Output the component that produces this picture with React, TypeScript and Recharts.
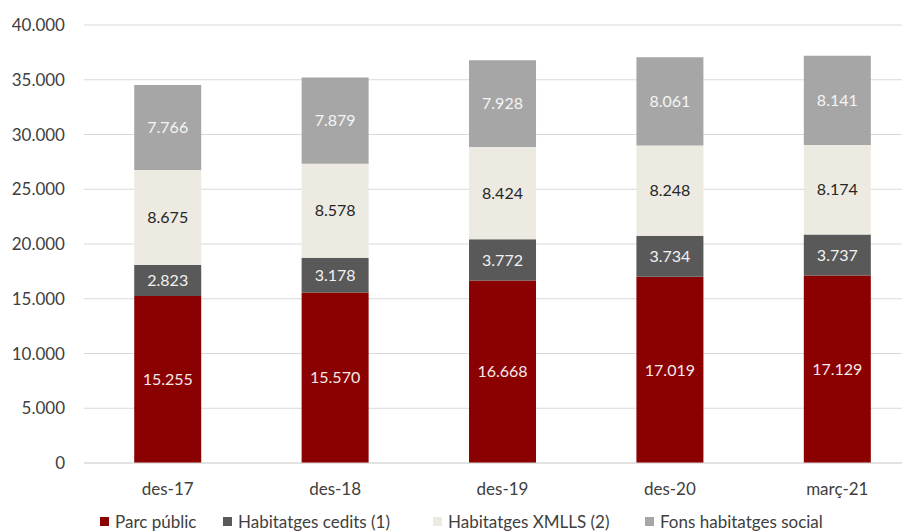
import React from 'react';
import { BarChart, Bar, XAxis, YAxis, CartesianGrid, Legend, LabelList } from 'recharts';

const categories = ['des-17', 'des-18', 'des-19', 'des-20', 'març-21'];
const parcPublic = [15255, 15570, 16668, 17019, 17129];
const habitatgesCedits = [2823, 3178, 3772, 3734, 3737];
const habitatgesXmlls = [8675, 8578, 8424, 8248, 8174];
const fonsHabitatges = [7766, 7879, 7928, 8061, 8141];
const yTicks = [0, 5000, 10000, 15000, 20000, 25000, 30000, 35000, 40000];

const seriesInfo = [
  { key: 'parc', name: 'Parc públic', color: '#8B0000', label: '#F6E9E9' },
  { key: 'cedits', name: 'Habitatges cedits (1)', color: '#595959', label: '#F2F2F2' },
  { key: 'xmlls', name: 'Habitatges XMLLS (2)', color: '#ECEAE1', label: '#262626' },
  { key: 'fons', name: 'Fons habitatges social', color: '#A6A6A6', label: '#F5F5F5' },
];

const data = categories.map((c, i) => ({
  cat: c,
  parc: parcPublic[i],
  cedits: habitatgesCedits[i],
  xmlls: habitatgesXmlls[i],
  fons: fonsHabitatges[i],
}));

const fmt = (v: any) => String(v).replace(/\B(?=(\d{3})+(?!\d))/g, '.');

const FONT = 'Lato, "Open Sans", sans-serif';
const legendLefts = [92, 215, 425, 637];

const LegendContent = () => (
  <div style={{ position: 'relative', height: 22, width: 913, fontFamily: FONT }}>
    {seriesInfo.map((s, i) => (
      <div
        key={s.key}
        style={{
          position: 'absolute',
          left: legendLefts[i],
          top: 0,
          height: 22,
          display: 'flex',
          alignItems: 'center',
          whiteSpace: 'nowrap',
        }}
      >
        <span style={{ display: 'inline-block', width: 9, height: 9, background: s.color, marginRight: 6 }} />
        <span style={{ fontSize: 17, color: '#404040' }}>{s.name}</span>
      </div>
    ))}
  </div>
);

export default function App() {
  return (
    <div style={{ width: 902, height: 524, overflow: 'hidden', fontFamily: FONT }}>
      <BarChart
        width={913}
        height={524}
        data={data}
        margin={{ top: 17, right: 0, left: 0, bottom: 0 }}
        barCategoryGap="30%"
      >
        <CartesianGrid vertical={false} stroke="#D9D9D9" />
        <XAxis
          dataKey="cat"
          height={47}
          tickSize={0}
          tickMargin={20}
          axisLine={{ stroke: '#D9D9D9' }}
          tick={{ fontSize: 17, fill: '#404040', fontFamily: FONT }}
        />
        <YAxis
          width={76}
          domain={[0, 40000]}
          ticks={yTicks}
          tickFormatter={fmt}
          tickSize={0}
          tickMargin={19}
          axisLine={false}
          tick={{ fontSize: 17, fill: '#404040', fontFamily: FONT }}
        />
        <Legend verticalAlign="bottom" content={<LegendContent />} />
        {seriesInfo.map((s) => (
          <Bar key={s.key} dataKey={s.key} name={s.name} stackId="a" fill={s.color} isAnimationActive={false}>
            <LabelList
              dataKey={s.key}
              position="center"
              formatter={fmt}
              fill={s.label}
              style={{ fontSize: 16, fontFamily: FONT }}
            />
          </Bar>
        ))}
      </BarChart>
    </div>
  );
}
